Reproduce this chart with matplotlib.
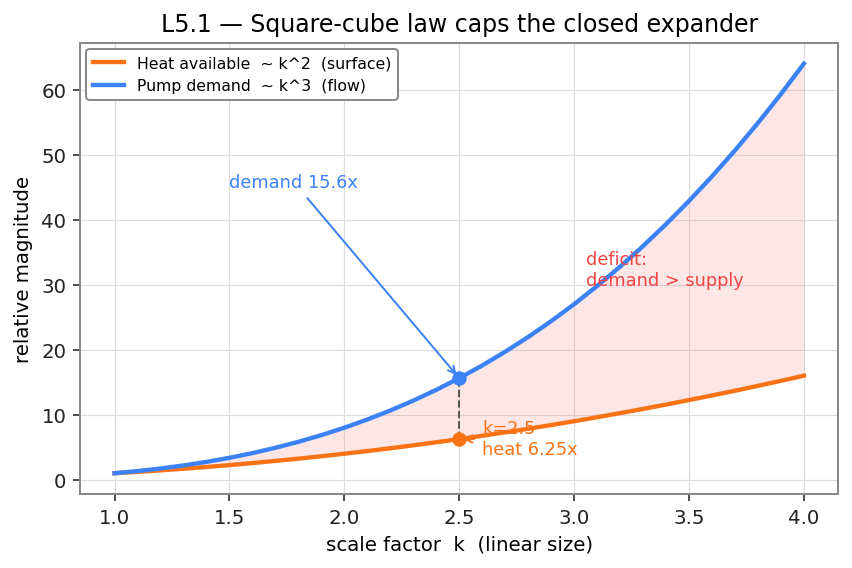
import matplotlib
matplotlib.use("Agg")
import matplotlib.pyplot as plt

# scale factor samples and values
k = [1.0, 1.1, 1.2, 1.3, 1.4, 1.5, 1.6, 1.7, 1.8, 1.9, 2.0, 2.1, 2.2, 2.3, 2.4, 2.5,
     2.6, 2.7, 2.8, 2.9, 3.0, 3.1, 3.2, 3.3, 3.4, 3.5, 3.6, 3.7, 3.8, 3.9, 4.0]
heat = [1.0, 1.21, 1.44, 1.69, 1.96, 2.25, 2.56, 2.89, 3.24, 3.61, 4.0, 4.41, 4.84, 5.29, 5.76, 6.25,
        6.76, 7.29, 7.84, 8.41, 9.0, 9.61, 10.24, 10.89, 11.56, 12.25, 12.96, 13.69, 14.44, 15.21, 16.0]
demand = [1.0, 1.331, 1.728, 2.197, 2.744, 3.375, 4.096, 4.913, 5.832, 6.859, 8.0, 9.261, 10.648, 12.167, 13.824, 15.625,
          17.576, 19.683, 21.952, 24.389, 27.0, 29.791, 32.768, 35.937, 39.304, 42.875, 46.656, 50.653, 54.872, 59.319, 64.0]
k_mark = 2.5
heat_mark = 6.25
demand_mark = 15.625

ORANGE = "#f97316"
BLUE = "#3b82f6"
RED = "#ef4444"

fig, ax = plt.subplots(figsize=(6.0, 4.007), dpi=142)
fig.subplots_adjust(left=0.094, right=0.984, top=0.923, bottom=0.130)

ax.fill_between(k, heat, demand, color=RED, alpha=0.13, linewidth=0)
ax.plot(k, heat, color=ORANGE, lw=2.2, label="Heat available  ~ k^2  (surface)")
ax.plot(k, demand, color=BLUE, lw=2.2, label="Pump demand  ~ k^3  (flow)")

ax.plot([k_mark, k_mark], [heat_mark, demand_mark], color="#555555", ls="--", lw=1.0)
ax.scatter([k_mark], [demand_mark], color=BLUE, s=40, zorder=5)
ax.scatter([k_mark], [heat_mark], color=ORANGE, s=40, zorder=5)

ax.annotate("demand 15.6x", xy=(k_mark, demand_mark), xytext=(1.5, 45),
            color=BLUE, fontsize=9,
            arrowprops=dict(arrowstyle="->", color=BLUE, lw=1.0))
ax.annotate("k=2.5\nheat 6.25x", xy=(k_mark, heat_mark), xytext=(2.6, 4.0),
            color=ORANGE, fontsize=9,
            arrowprops=dict(arrowstyle="->", color=ORANGE, lw=1.0))
ax.text(3.05, 30, "deficit:\ndemand > supply", color=RED, fontsize=9)

ax.set_xlim(0.85, 4.15)
ax.set_ylim(-2.2, 67.2)
ax.set_xticks([1.0, 1.5, 2.0, 2.5, 3.0, 3.5, 4.0])
ax.set_yticks([0, 10, 20, 30, 40, 50, 60])
ax.tick_params(labelsize=10, colors="#222222", length=3.5)
ax.grid(True, color="#dddddd", lw=0.6)
ax.set_axisbelow(True)
for s in ax.spines.values():
    s.set_color("#888888")
    s.set_linewidth(1.0)

ax.set_xlabel("scale factor  k  (linear size)", fontsize=10)
ax.set_ylabel("relative magnitude", fontsize=10)
ax.set_title("L5.1 — Square-cube law caps the closed expander", fontsize=12)

leg = ax.legend(loc="upper left", fontsize=8, framealpha=1.0, borderaxespad=0.4)
leg.get_frame().set_edgecolor("#888888")

fig.savefig("out.png", dpi=142)
